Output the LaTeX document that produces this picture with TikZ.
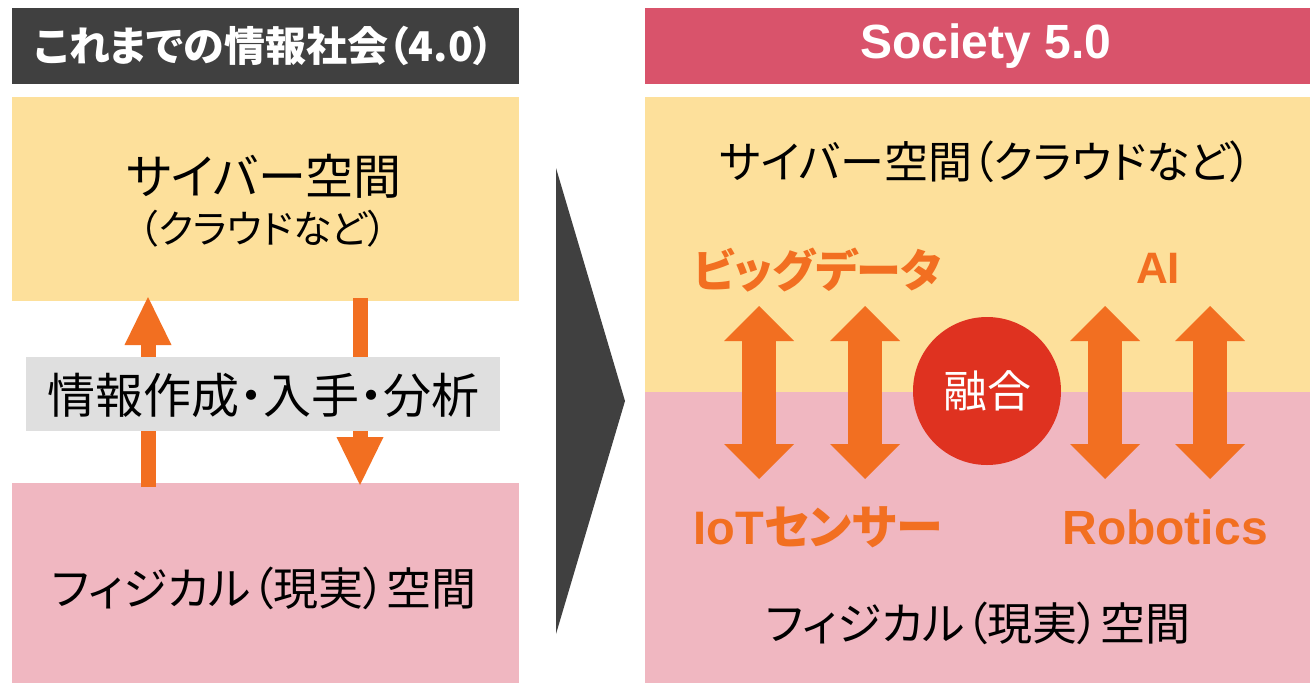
\documentclass[tikz,border=0pt]{standalone}
\usepackage{fontspec}
\setmainfont{Liberation Sans}
\newfontfamily\jp[RawFeature=+palt]{Noto Sans CJK JP}
\usetikzlibrary{arrows.meta}
\definecolor{darkhd}{HTML}{404040}
\definecolor{redhd}{HTML}{D9536B}
\definecolor{cyberc}{HTML}{FDE09B}
\definecolor{physc}{HTML}{F0B7C1}
\definecolor{grayc}{HTML}{DFDFDF}
\definecolor{orangec}{HTML}{F26F21}
\definecolor{fusec}{HTML}{DF3220}
\newcommand\setfs[1]{\fontsize{#1}{#1}\selectfont}
\begin{document}
\begin{tikzpicture}[x=1pt,y=-1pt,
  box/.style={draw=none,inner sep=0pt,outer sep=0pt},
  txt/.style={inner sep=0pt,outer sep=0pt,anchor=center},
  dblarrow/.style={draw=orangec,line width=34pt,
    {Triangle[width=70pt,length=35pt,line width=0pt]}-{Triangle[width=70pt,length=35pt,line width=0pt]}},
  thinarrow/.style={draw=orangec,line width=15pt,
    -{Triangle[width=47pt,length=48pt,line width=0pt]}}]
\useasboundingbox (0,0) rectangle (1312,683);
\fill[white] (0,0) rectangle (1312,683);

% left column
\node[box,fill=darkhd,minimum width=507pt,minimum height=76pt] (h1) at (265.5,46) {};
\node[txt,text=white] (h1t) at (264,46) {\jp\bfseries\setfs{41}これまでの情報社会（4.0）};
\node[box,fill=cyberc,minimum width=507pt,minimum height=204pt] (cy1) at (265.5,199) {};
\node[txt] (cy1a) at (264,176) {\jp\setfs{48}サイバー空間};
\node[txt] (cy1b) at (263,229) {\jp\setfs{39}（クラウドなど）};
\node[box,fill=physc,minimum width=507pt,minimum height=200pt] (ph1) at (265.5,583) {};
\node[txt] (ph1t) at (264,588) {\jp\setfs{45}フィジカル（現実）空間};

\coordinate (upS) at (148,487);
\coordinate (upE) at (148,297);
\coordinate (dnS) at (360,298);
\coordinate (dnE) at (360,485);
\draw[thinarrow] (upS) -- (upE);
\draw[thinarrow] (dnS) -- (dnE);

\node[box,fill=grayc,minimum width=474pt,minimum height=74pt] (gr) at (263,394) {};
\node[txt] (grt) at (263,395) {\jp\setfs{48}情報作成・入手・分析};

% chevron
\fill[darkhd] (556,168) -- (625,401) -- (556,634) -- cycle;

% right column
\node[box,fill=redhd,minimum width=665pt,minimum height=76pt] (h2) at (977.5,46) {};
\node[txt,text=white] (h2t) at (986,46) {\bfseries\setfs{48}Society 5.0};
\node[box,fill=cyberc,minimum width=665pt,minimum height=295pt] (cy2) at (977.5,244.5) {};
\node[box,fill=physc,minimum width=665pt,minimum height=291pt] (ph2) at (977.5,537.5) {};
\node[txt] (cy2t) at (986,162) {\jp\setfs{44}サイバー空間（クラウドなど）};
\node[txt] (ph2t) at (978,623) {\jp\setfs{45}フィジカル（現実）空間};

\node[txt,text=orangec] (big) at (818,270) {\jp\bfseries\setfs{45}ビッグデータ};
\node[txt,text=orangec] (ai) at (1158,268) {\bfseries\setfs{44}AI};
\node[txt,text=orangec] (iot) at (818,527) {\bfseries\setfs{47}IoT\jp センサー};
\node[txt,text=orangec] (rob) at (1165,527) {\bfseries\setfs{48}Robotics};

\foreach \n/\x in {a/759,b/865,c/1105,d/1210}{
  \coordinate (\n t) at (\x,306);
  \coordinate (\n b) at (\x,479);
  \draw[dblarrow] (\n t) -- (\n b);
}

\node[circle,fill=fusec,minimum size=148pt,inner sep=0pt,text=white] (fuse) at (987,391) {\jp\setfs{44}融合};
\end{tikzpicture}
\end{document}
